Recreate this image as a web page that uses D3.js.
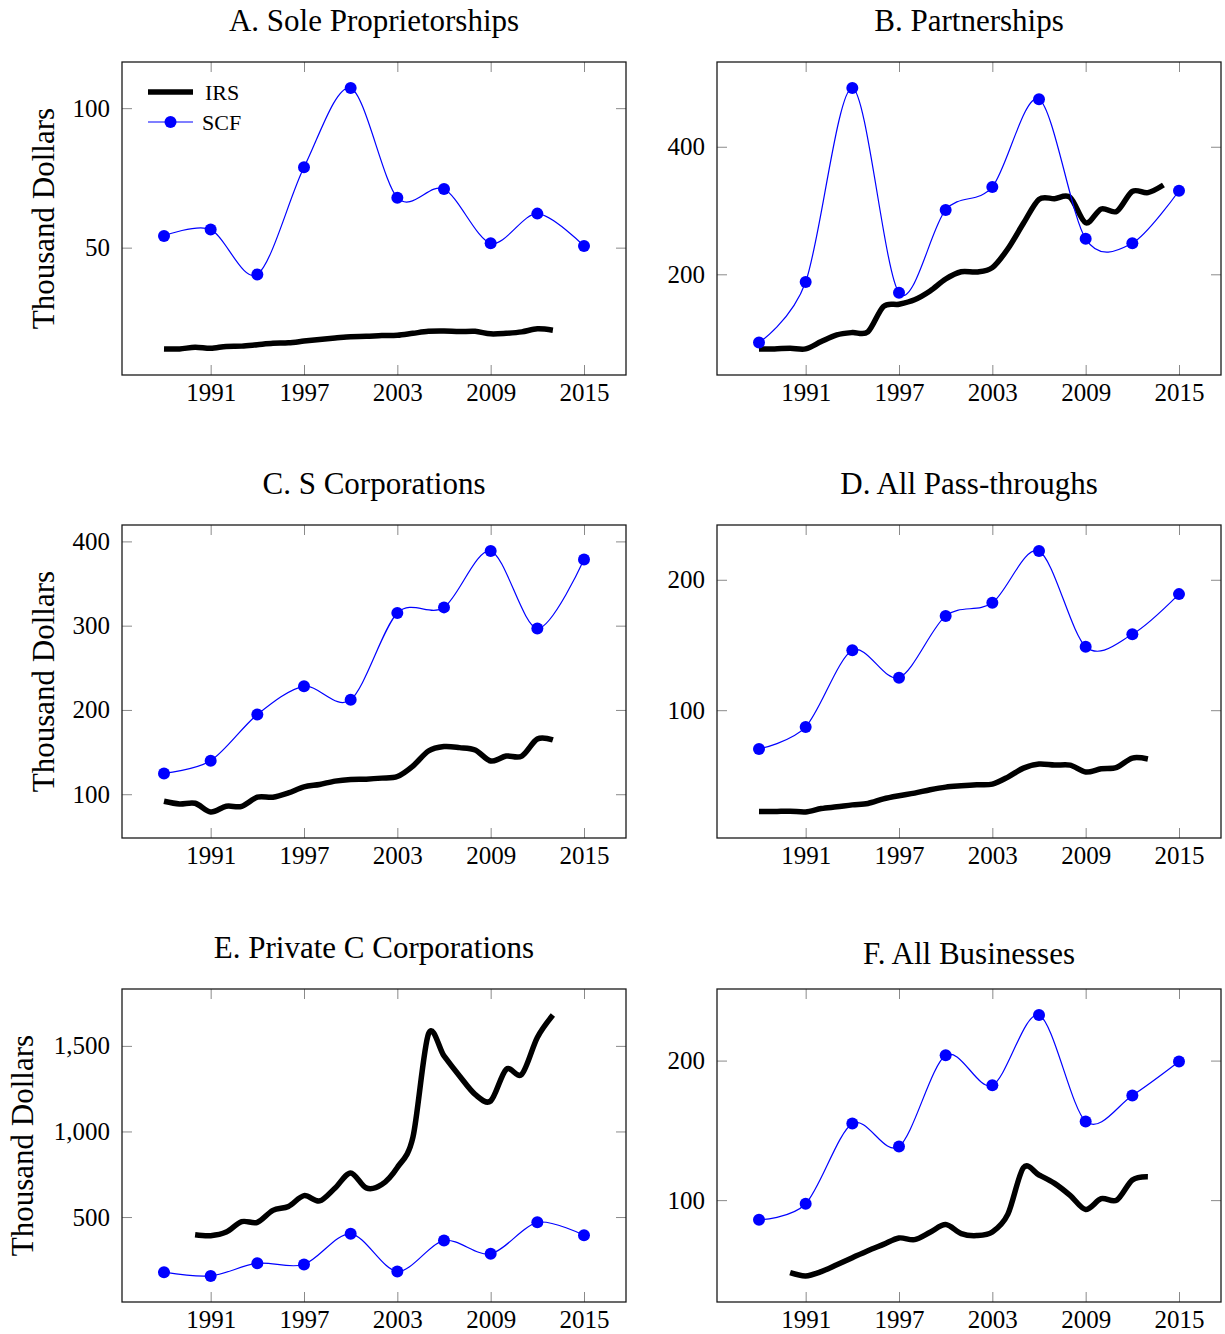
<!DOCTYPE html>
<html>
<head>
<meta charset="utf-8">
<script src="https://cdn.jsdelivr.net/npm/d3@7"></script>
<style>
  body { margin: 0; background: #fff; }
  svg text { font-family: "Liberation Serif", "Times New Roman", serif; fill: #000; }
</style>
</head>
<body>
<svg id="fig" width="1225" height="1334"></svg>
<script>
// ---- data (thousand dollars) ----
const scfYears = [1988, 1991, 1994, 1997, 2000, 2003, 2006, 2009, 2012, 2015];
const irsYears88to13 = [1988, 1989, 1990, 1991, 1992, 1993, 1994, 1995, 1996, 1997, 1998, 1999, 2000,
                        2001, 2002, 2003, 2004, 2005, 2006, 2007, 2008, 2009, 2010, 2011, 2012, 2013];
const irsYears88to14 = [1988, 1989, 1990, 1991, 1992, 1993, 1994, 1995, 1996, 1997, 1998, 1999, 2000,
                        2001, 2002, 2003, 2004, 2005, 2006, 2007, 2008, 2009, 2010, 2011, 2012, 2013, 2014];
const irsYears90to13 = [1990, 1991, 1992, 1993, 1994, 1995, 1996, 1997, 1998, 1999, 2000,
                        2001, 2002, 2003, 2004, 2005, 2006, 2007, 2008, 2009, 2010, 2011, 2012, 2013];

const soleIRS = [13.7, 13.7, 14.3, 13.9, 14.6, 14.7, 15.2, 15.7, 15.9, 16.5, 17.1, 17.6, 18.1,
                 18.2, 18.5, 18.6, 19.3, 20.0, 20.1, 19.9, 20.0, 19.1, 19.3, 19.8, 20.9, 20.4];
const soleSCF = [54.2, 56.5, 40.4, 78.8, 107.2, 67.9, 71.0, 51.6, 62.2, 50.6];

const partnerIRS = [83, 83, 84, 83, 94.5, 105, 108.7, 109.7, 149.6, 153, 160, 173.8, 192.6,
                    204, 203.7, 210.5, 240, 280, 317.6, 318.6, 320.7, 280.8, 302.4, 298.7, 330, 328, 340];
const partnerSCF = [93, 188, 492, 171, 301, 337, 474.5, 255.6, 248.8, 331];

const sCorpIRS = [91.7, 88.5, 89.3, 79, 85.7, 85.7, 96.5, 96.5, 101.6, 108.8, 111.6, 115.5, 117.5,
                  117.9, 119.1, 121, 133.4, 151.3, 156.5, 155.3, 152.5, 139.4, 145.3, 145.3, 165.6, 164.4];
const sCorpSCF = [124.7, 139.8, 194.6, 228, 212, 315, 321.7, 388.5, 296.7, 378.5];

const passIRS = [22.3, 22.3, 22.6, 22, 24.6, 25.9, 27.4, 28.5, 32, 34.4, 36.4, 39, 41,
                 42, 42.8, 43.3, 48.7, 55.6, 58.7, 57.9, 57.9, 52.6, 55.1, 56.2, 63.3, 62.6];
const passSCF = [70.3, 87.2, 145.9, 124.9, 172.3, 182.3, 222, 148.7, 158.2, 189];

const cCorpIRS = [396, 391, 412, 473, 469, 539, 562, 625, 594, 670, 758,
                  670, 690, 790, 965, 1570, 1441, 1324, 1217, 1178, 1363, 1334, 1549, 1680];
const cCorpSCF = [178, 156, 230, 223, 402, 182, 363, 285, 469, 394];

const allBizIRS = [48, 45.7, 48.8, 53.7, 58.8, 63.8, 68.3, 72.9, 71.7, 77, 82.5,
                   76, 74.6, 77.2, 90, 123.3, 118, 112, 103.4, 93.3, 101, 100, 114.4, 116.8];
const allBizSCF = [85.9, 97.4, 154.9, 138.4, 203.8, 182.3, 232.6, 156.4, 175, 199.3];

const xTickValues = [1991, 1997, 2003, 2009, 2015];
const titles = ["A. Sole Proprietorships", "B. Partnerships", "C. S Corporations",
                "D. All Pass-throughs", "E. Private C Corporations", "F. All Businesses"];
const yTicksA = [50, 100];
const yTicksB = [200, 400];
const yTicksC = [100, 200, 300, 400];
const yTicksD = [100, 200];
const yTicksE = [500, 1000, 1500];
const yTicksF = [100, 200];
const seriesNames = ["IRS", "SCF"];
const yLabelText = "Thousand Dollars";

// ---- layout ----
const W = 504, H = 313;
const panels = [
  { title: titles[0], irsYears: irsYears88to13, irs: soleIRS,    scf: soleSCF,    yTicks: yTicksA, x: 122, y: 62,  titleY: 31,  yLabelX: 43, legend: true },
  { title: titles[1], irsYears: irsYears88to14, irs: partnerIRS, scf: partnerSCF, yTicks: yTicksB, x: 717, y: 62,  titleY: 31 },
  { title: titles[2], irsYears: irsYears88to13, irs: sCorpIRS,   scf: sCorpSCF,   yTicks: yTicksC, x: 122, y: 525, titleY: 494, yLabelX: 43 },
  { title: titles[3], irsYears: irsYears88to13, irs: passIRS,    scf: passSCF,    yTicks: yTicksD, x: 717, y: 525, titleY: 494 },
  { title: titles[4], irsYears: irsYears90to13, irs: cCorpIRS,   scf: cCorpSCF,   yTicks: yTicksE, x: 122, y: 989, titleY: 958, yLabelX: 22 },
  { title: titles[5], irsYears: irsYears90to13, irs: allBizIRS,  scf: allBizSCF,  yTicks: yTicksF, x: 717, y: 989, titleY: 964 }
];

const svg = d3.select("#fig");
const smooth = d3.curveCardinal.tension(0.08);
const tickColor = "#8a8a8a";

function padded(ext) {
  const pad = (ext[1] - ext[0]) * 0.1;
  return [ext[0] - pad, ext[1] + pad];
}

function drawPanel(p) {
  const g = svg.append("g").attr("transform", `translate(${p.x},${p.y})`);

  const x = d3.scaleLinear()
    .domain(padded(d3.extent(p.irsYears.concat(scfYears))))
    .range([0, W]);
  const y = d3.scaleLinear()
    .domain(padded(d3.extent(p.irs.concat(p.scf))))
    .range([H, 0]);

  const fmt = d3.format(",");

  // axes with inward ticks on all four sides
  const bottom = g.append("g").attr("transform", `translate(0,${H})`)
    .call(d3.axisBottom(x).tickValues(xTickValues).tickFormat(d3.format("d"))
      .tickSizeInner(-10).tickSizeOuter(0).tickPadding(8));
  const top = g.append("g")
    .call(d3.axisTop(x).tickValues(xTickValues).tickFormat("")
      .tickSizeInner(-10).tickSizeOuter(0));
  const left = g.append("g")
    .call(d3.axisLeft(y).tickValues(p.yTicks).tickFormat(fmt)
      .tickSizeInner(-10).tickSizeOuter(0).tickPadding(12));
  const right = g.append("g").attr("transform", `translate(${W},0)`)
    .call(d3.axisRight(y).tickValues(p.yTicks).tickFormat("")
      .tickSizeInner(-10).tickSizeOuter(0));

  [bottom, top, left, right].forEach(a => {
    a.select(".domain").remove();
    a.selectAll(".tick line").attr("stroke", tickColor).attr("stroke-width", 1);
    a.selectAll(".tick text")
      .attr("font-family", '"Liberation Serif", "Times New Roman", serif')
      .attr("font-size", 25).attr("fill", "#000");
  });

  // frame
  g.append("rect").attr("width", W).attr("height", H)
    .attr("fill", "none").attr("stroke", "#1a1a1a").attr("stroke-width", 1.3);

  // IRS series: thick black smooth line
  const irsPts = p.irsYears.map((yr, i) => [yr, p.irs[i]]);
  g.append("path").datum(irsPts)
    .attr("fill", "none").attr("stroke", "#000").attr("stroke-width", 5.5)
    .attr("stroke-linejoin", "round")
    .attr("d", d3.line().x(d => x(d[0])).y(d => y(d[1])).curve(smooth));

  // SCF series: thin blue smooth line with dot markers
  const scfPts = scfYears.map((yr, i) => [yr, p.scf[i]]);
  g.append("path").datum(scfPts)
    .attr("fill", "none").attr("stroke", "#0000ff").attr("stroke-width", 1.2)
    .attr("d", d3.line().x(d => x(d[0])).y(d => y(d[1])).curve(smooth));
  g.selectAll("circle.scf").data(scfPts).join("circle")
    .attr("class", "scf")
    .attr("cx", d => x(d[0])).attr("cy", d => y(d[1])).attr("r", 6)
    .attr("fill", "#0000ff");

  // title
  svg.append("text")
    .attr("x", p.x + W / 2).attr("y", p.titleY)
    .attr("text-anchor", "middle").attr("font-size", 31)
    .text(p.title);

  // y-axis label
  if (p.yLabelX !== undefined) {
    svg.append("text")
      .attr("transform", `translate(${p.yLabelX},${p.y + H / 2}) rotate(-90)`)
      .attr("text-anchor", "middle").attr("dy", "0.35em")
      .attr("font-size", 31)
      .text(yLabelText);
  }

  // legend
  if (p.legend) {
    const lg = g.append("g").attr("transform", "translate(26,30)");
    lg.append("line").attr("x1", 0).attr("x2", 45).attr("y1", 0).attr("y2", 0)
      .attr("stroke", "#000").attr("stroke-width", 5.5);
    lg.append("text").attr("x", 57).attr("y", 0).attr("dy", "0.35em")
      .attr("font-size", 22).text(seriesNames[0]);
    lg.append("line").attr("x1", 0).attr("x2", 45).attr("y1", 30).attr("y2", 30)
      .attr("stroke", "#0000ff").attr("stroke-width", 1.2);
    lg.append("circle").attr("cx", 22.5).attr("cy", 30).attr("r", 6).attr("fill", "#0000ff");
    lg.append("text").attr("x", 54).attr("y", 30).attr("dy", "0.35em")
      .attr("font-size", 22).text(seriesNames[1]);
  }
}

panels.forEach(drawPanel);
</script>
</body>
</html>
